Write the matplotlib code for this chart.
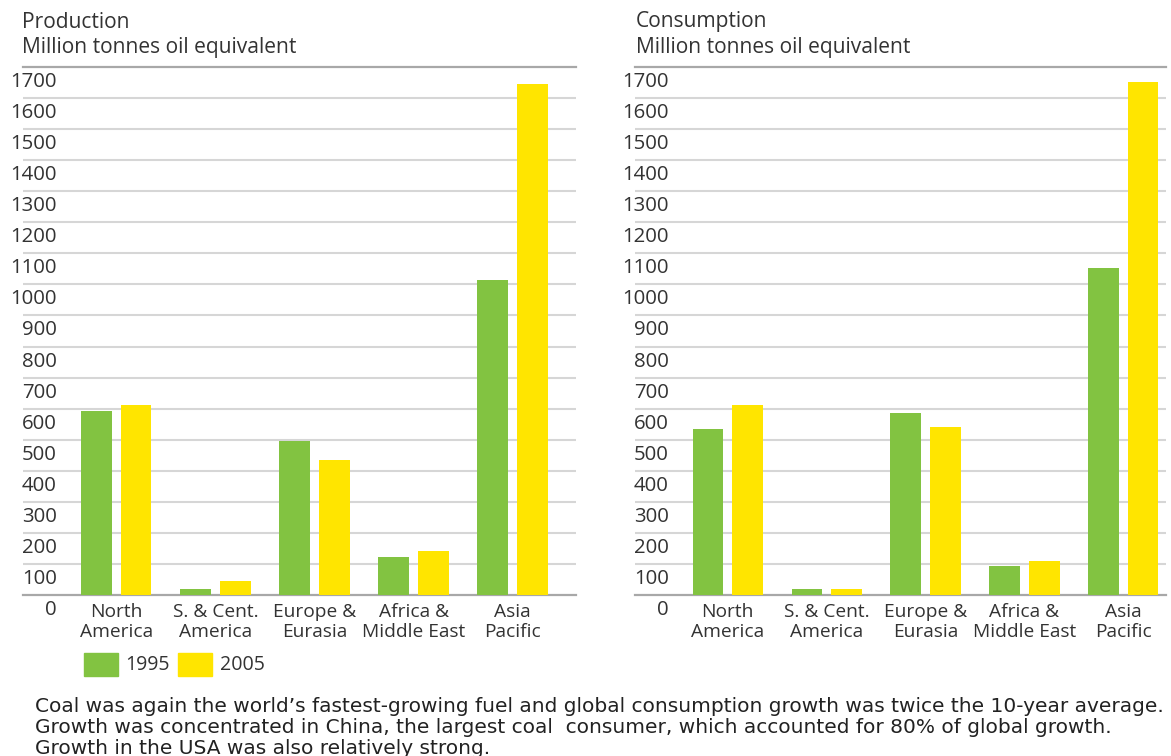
import matplotlib
matplotlib.use("Agg")
import matplotlib.pyplot as plt
import matplotlib.transforms as mtransforms
from matplotlib.patches import Rectangle

regions = ["North\nAmerica", "S. & Cent.\nAmerica", "Europe &\nEurasia", "Africa &\nMiddle East", "Asia\nPacific"]
years = ["1995", "2005"]
production_1995 = [593, 20, 496, 123, 1013]
production_2005 = [613, 46, 435, 142, 1644]
consumption_1995 = [535, 20, 587, 94, 1052]
consumption_2005 = [613, 20, 540, 111, 1651]
ytick_values = list(range(0, 1800, 100))
panel_titles = ["Production", "Consumption"]
unit_label = "Million tonnes oil equivalent"
caption = ["Coal was again the world\u2019s fastest-growing fuel and global consumption growth was twice the 10-year average.",
           "Growth was concentrated in China, the largest coal  consumer, which accounted for 80% of global growth.",
           "Growth in the USA was also relatively strong."]

GREEN = "#82c341"
YELLOW = "#ffe500"
TEXT = "#333333"
FONT = "Open Sans"
CAP_FONT = "DejaVu Sans"

W, H = 1171, 756
fig = plt.figure(figsize=(W / 100, H / 100), dpi=100)
fig.patch.set_facecolor("white")
renderer = fig.canvas.get_renderer()


def fit_size(s, target_px, family=FONT):
    t = fig.text(0, 0, s, fontsize=10, family=family)
    w = t.get_window_extent(renderer).width
    t.remove()
    return 10 * target_px / w


FS_TITLE = fit_size(unit_label, 276)
FS_TICK = fit_size("1700", 47)
FS_CAT = fit_size("America", 73)
FS_LEG = fit_size("1995", 45)
FS_CAP = fit_size(caption[0], 1127, CAP_FONT)


def px_ax(l, r, t, b):
    return fig.add_axes([l / W, 1 - b / H, (r - l) / W, (b - t) / H])

panels = [
    dict(ax=px_ax(23, 576, 67, 595), xlim=(-0.941, 4.639), v1=production_1995, v2=production_2005, title=panel_titles[0], tx=22),
    dict(ax=px_ax(635, 1166, 67, 595), xlim=(-0.938, 4.431), v1=consumption_1995, v2=consumption_2005, title=panel_titles[1], tx=636),
]

for p in panels:
    ax = p["ax"]
    x = list(range(len(regions)))
    ax.bar([i - 0.2 for i in x], p["v1"], width=0.31, color=GREEN, zorder=3)
    ax.bar([i + 0.2 for i in x], p["v2"], width=0.31, color=YELLOW, zorder=3)
    ax.set_xlim(*p["xlim"])
    ax.set_ylim(0, 1700)
    for s in ax.spines.values():
        s.set_visible(False)
    ax.set_xticks([])
    ax.set_yticks([])
    for v in ytick_values:
        if v in (0, 1700):
            ax.axhline(v, color="#a8a8a8", lw=1.6, zorder=2, clip_on=False)
        else:
            ax.axhline(v, color="#d6d6d6", lw=1.5, zorder=1)
    blend_y = mtransforms.blended_transform_factory(ax.transAxes, ax.transData)
    off = mtransforms.ScaledTranslation(34 / 100, -15 / 100, fig.dpi_scale_trans)
    for v in ytick_values:
        ax.text(0, v, str(v), transform=blend_y + off, ha="right", va="center",
                fontsize=FS_TICK, color=TEXT, family=FONT)
    blend_x = mtransforms.blended_transform_factory(ax.transData, ax.transAxes)
    off2 = mtransforms.ScaledTranslation(0, -27 / 100, fig.dpi_scale_trans)
    ls = 22 / (FS_CAT * 100 / 72)
    for i, r in enumerate(regions):
        ax.text(i, 0, r, transform=blend_x + off2, ha="center", va="center",
                multialignment="center", fontsize=FS_CAT, color=TEXT, family=FONT, linespacing=ls)
    fig.text(p["tx"] / W, 1 - 22 / H, p["title"], ha="left", va="center", fontsize=FS_TITLE, color=TEXT, family=FONT)
    fig.text(p["tx"] / W, 1 - 47 / H, unit_label, ha="left", va="center", fontsize=FS_TITLE, color=TEXT, family=FONT)

# legend
fig.patches.append(Rectangle((84 / W, 1 - 676 / H), 34 / W, 23 / H, transform=fig.transFigure, color=GREEN))
fig.text(125 / W, 1 - 665 / H, years[0], ha="left", va="center", fontsize=FS_LEG, color=TEXT, family=FONT)
fig.patches.append(Rectangle((178 / W, 1 - 676 / H), 34 / W, 23 / H, transform=fig.transFigure, color=YELLOW))
fig.text(220 / W, 1 - 665 / H, years[1], ha="left", va="center", fontsize=FS_LEG, color=TEXT, family=FONT)

for j, line in enumerate(caption):
    fig.text(35 / W, 1 - (705 + 20.5 * j) / H, line, ha="left", va="center_baseline", fontsize=FS_CAP,
             color="#222222", family=CAP_FONT)

fig.savefig("out.png", dpi=100, facecolor="white")
